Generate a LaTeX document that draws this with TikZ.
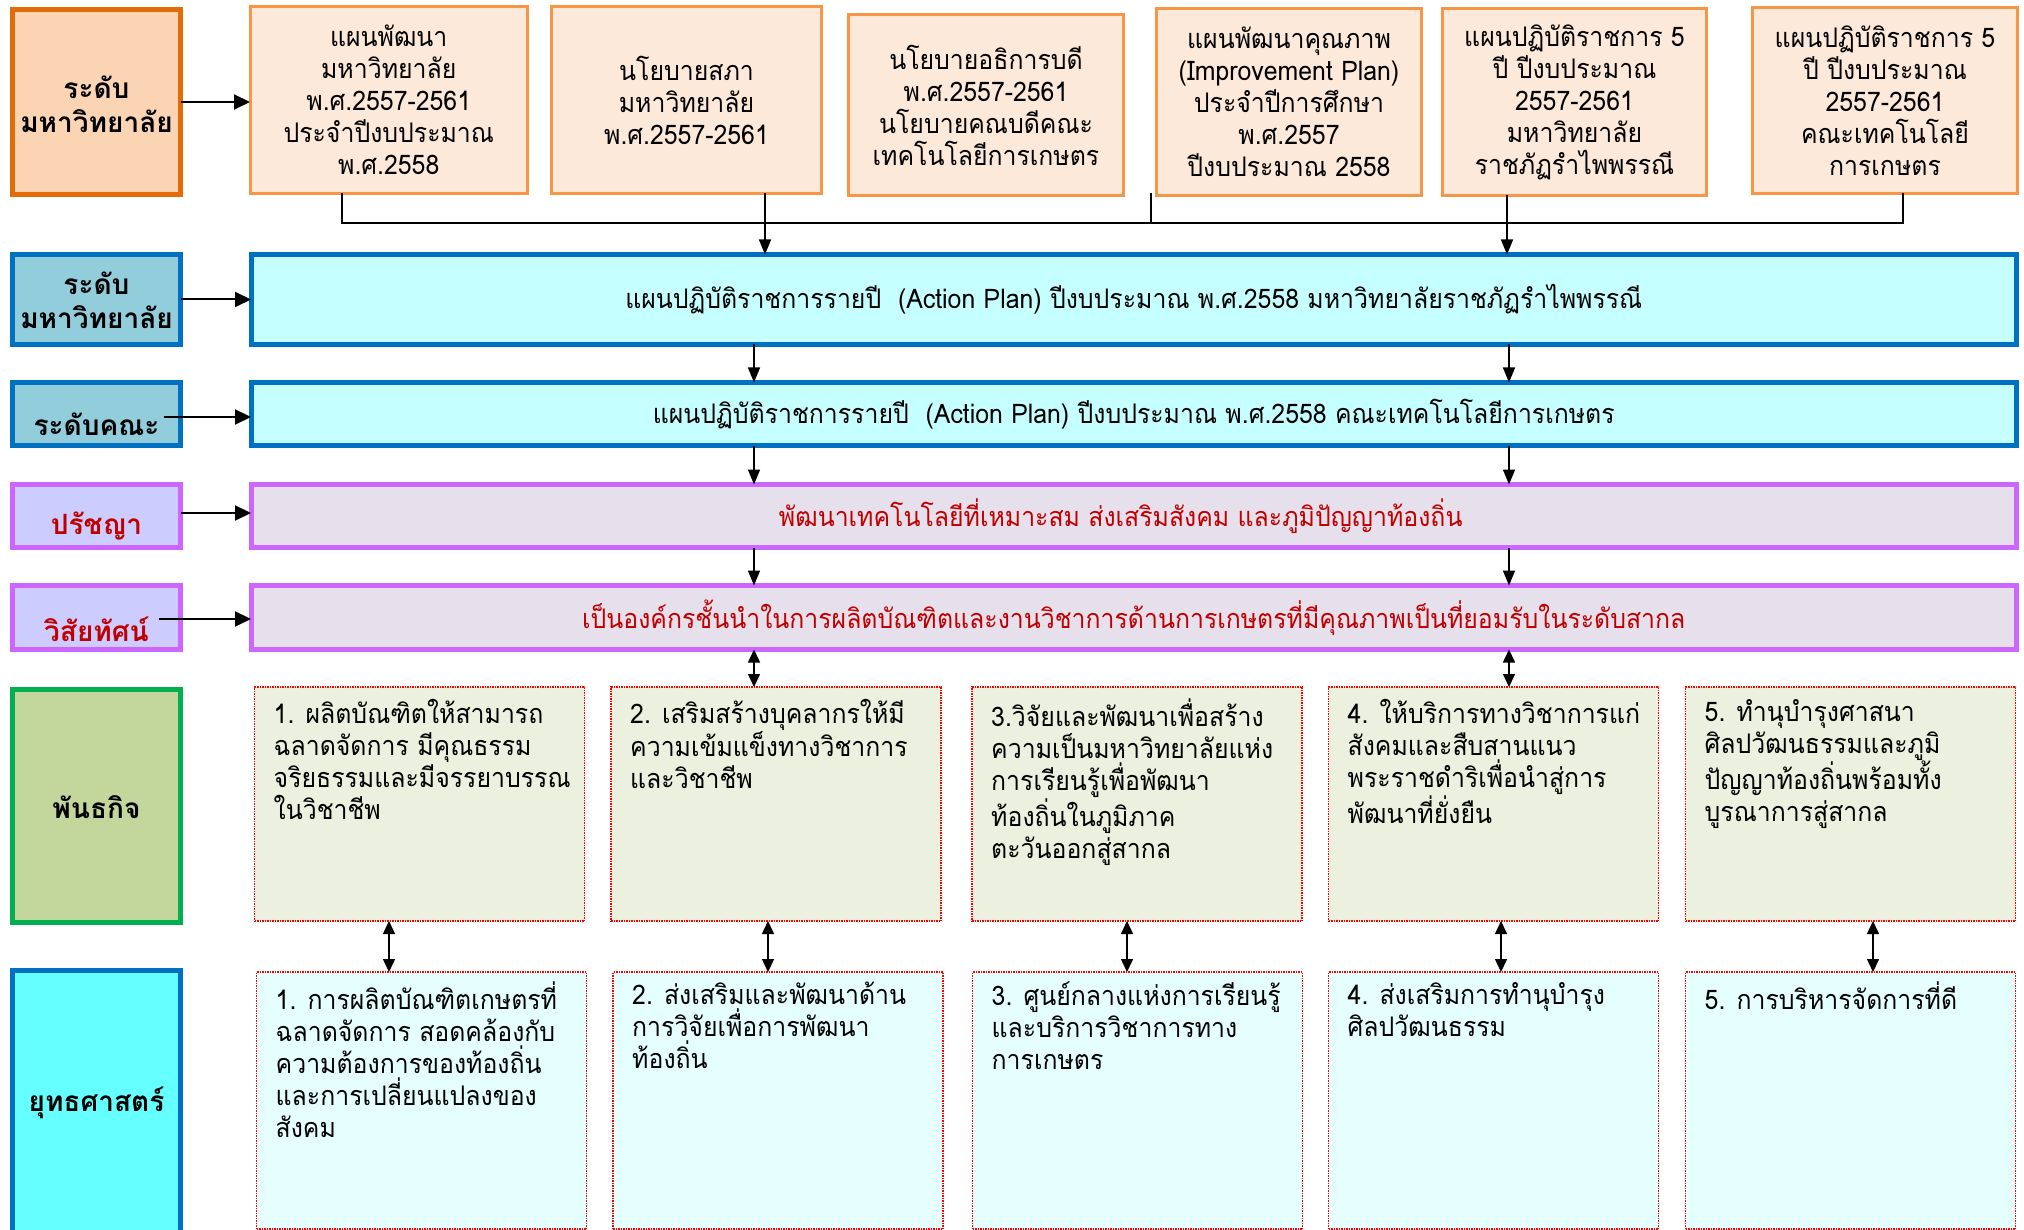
\documentclass[tikz,border=0pt]{standalone}
\usepackage{fontspec}
\setmainfont{Loma}[Script=Thai, FakeStretch=0.92]
\newfontfamily\lblfont{Loma}[Script=Thai, FakeStretch=1.0]
\usetikzlibrary{arrows.meta,calc}
\definecolor{lorange}{HTML}{E36C09}
\definecolor{lorangefill}{HTML}{FBD4B4}
\definecolor{topor}{HTML}{F79646}
\definecolor{topfill}{HTML}{FDE9D9}
\definecolor{bblue}{HTML}{0070C0}
\definecolor{lbluefill}{HTML}{92CDDC}
\definecolor{cyanfill}{HTML}{C6FFFF}
\definecolor{ppl}{HTML}{CC66FF}
\definecolor{pplfill}{HTML}{CCCCFF}
\definecolor{lavfill}{HTML}{E6E0EC}
\definecolor{redtxt}{HTML}{C00000}
\definecolor{ggreen}{HTML}{00B050}
\definecolor{greenfill}{HTML}{C3D69B}
\definecolor{misfill}{HTML}{EBF1DE}
\definecolor{strfill}{HTML}{E5FFFF}
\definecolor{strlbl}{HTML}{66FFFF}
\newcommand{\normaltxt}{\fontsize{27}{32}\selectfont}
\newcommand{\boldtxt}{\lblfont\fontsize{28}{34}\selectfont\bfseries}
\begin{document}
\begin{tikzpicture}[x=1pt,y=-1pt,
  box/.style={inner sep=0pt, outer sep=0pt, align=center, font=\normaltxt},
  topbox/.style={box, draw=topor, line width=3pt, fill=topfill},
  lblor/.style={box, draw=lorange, line width=5pt, fill=lorangefill, minimum width=168pt},
  lblbl/.style={box, draw=bblue, line width=5pt, fill=lbluefill, minimum width=168pt},
  lblpp/.style={box, draw=ppl, line width=5pt, fill=pplfill, minimum width=168pt},
  lblgr/.style={box, draw=ggreen, line width=5pt, fill=greenfill, minimum width=168pt},
  lblst/.style={box, draw=bblue, line width=5pt, fill=strlbl, minimum width=168pt},
  widebl/.style={box, draw=bblue, line width=5pt, fill=cyanfill, minimum width=1765.5pt},
  widepp/.style={box, draw=ppl, line width=5pt, fill=lavfill, minimum width=1765.5pt, text=redtxt},
  misbox/.style={box, draw=red, dash pattern=on 1.5pt off 1pt, line width=1.2pt, fill=misfill, minimum width=330pt, minimum height=234pt},
  strbox/.style={box, draw=red, dash pattern=on 1.5pt off 1pt, line width=1.2pt, fill=strfill, minimum width=330pt, minimum height=257pt},
  lbltxt/.style={inner sep=0pt, align=center, font=\boldtxt},
  bodytxt/.style={inner sep=0pt, align=left, font=\normaltxt, anchor=north west},
  larrow/.style={line width=2pt, -{Triangle[length=16pt,width=15pt]}},
  varrow/.style={line width=1.5pt, -{Triangle[length=15pt,width=12pt]}},
  darrow/.style={line width=1.5pt, {Triangle[length=13pt,width=12pt]}-{Triangle[length=13pt,width=12pt]}},
  thinline/.style={line width=1.4pt}
]
\clip (0,0) rectangle (2024,1230);
\fill[white] (0,0) rectangle (2024,1230);

% top row
\node[lblor, minimum height=185pt] (L1) at (96.5,102) {};
\node[lbltxt] (L1t) at (96.5,104) {ระดับ\\มหาวิทยาลัย};
\node[topbox, minimum width=277.5pt, minimum height=187pt] (t1) at (388.75,100) {แผนพัฒนา\\มหาวิทยาลัย\\พ.ศ.2557-2561\\ประจำปีงบประมาณ\\พ.ศ.2558};
\node[topbox, minimum width=270pt, minimum height=187pt] (t2) at (686.5,100) {นโยบายสภา\\มหาวิทยาลัย\\พ.ศ.2557-2561};
\node[topbox, minimum width=275pt, minimum height=181pt] (t3) at (986,105) {นโยบายอธิการบดี\\พ.ศ.2557-2561\\นโยบายคณบดีคณะ\\เทคโนโลยีการเกษตร};
\node[topbox, minimum width=265pt, minimum height=187pt] (t4) at (1289,102) {แผนพัฒนาคุณภาพ\\(Improvement Plan)\\ประจำปีการศึกษา\\พ.ศ.2557\\ปีงบประมาณ 2558};
\node[topbox, minimum width=264pt, minimum height=187pt] (t5) at (1574.5,102) {แผนปฏิบัติราชการ 5\\ปี ปีงบประมาณ\\2557-2561\\มหาวิทยาลัย\\ราชภัฏรำไพพรรณี};
\node[topbox, minimum width=265pt, minimum height=186pt] (t6) at (1885,100.5) {แผนปฏิบัติราชการ 5\\ปี ปีงบประมาณ\\2557-2561\\คณะเทคโนโลยี\\การเกษตร};

% level rows
\node[lblbl, minimum height=90pt] (L2) at (96.5,299.5) {};
\node[lbltxt] (L2t) at (96.5,300) {ระดับ\\มหาวิทยาลัย};
\node[widebl, minimum height=90pt] (W1) at (1133.75,299.5) {แผนปฏิบัติราชการรายปี\ \ (Action Plan) ปีงบประมาณ พ.ศ.2558 มหาวิทยาลัยราชภัฏรำไพพรรณี};

\node[lblbl, minimum height=63pt] (L3) at (96.5,414) {};
\node[lbltxt] (L3t) at (96.5,424) {ระดับคณะ};
\node[widebl, minimum height=63pt] (W2) at (1133.75,414) {แผนปฏิบัติราชการรายปี\ \ (Action Plan) ปีงบประมาณ พ.ศ.2558 คณะเทคโนโลยีการเกษตร};

\node[lblpp, minimum height=63pt] (L4) at (96.5,516) {};
\node[lbltxt, text=redtxt] (L4t) at (96.5,526) {ปรัชญา};
\node[widepp, minimum height=63pt] (W3) at (1133.75,516) {พัฒนาเทคโนโลยีที่เหมาะสม ส่งเสริมสังคม และภูมิปัญญาท้องถิ่น\hspace*{26pt}};

\node[lblpp, minimum height=64pt] (L5) at (96.5,617.5) {};
\node[lbltxt, text=redtxt] (L5t) at (96.5,629) {วิสัยทัศน์};
\node[widepp, minimum height=64pt] (W4) at (1133.75,617.5) {เป็นองค์กรชั้นนำในการผลิตบัณฑิตและงานวิชาการด้านการเกษตรที่มีคุณภาพเป็นที่ยอมรับในระดับสากล};

% mission
\node[lblgr, minimum height=233pt] (L6) at (96.5,806) {};
\node[lbltxt] (L6t) at (96.5,807) {พันธกิจ};
\node[misbox] (M1) at (419.5,804) {};
\node[misbox] (M2) at (776,804) {};
\node[misbox] (M3) at (1137,804) {};
\node[misbox] (M4) at (1493.5,804) {};
\node[misbox] (M5) at (1850.5,804) {};
\node[bodytxt] (M1t) at ($(M1.north west)+(19,12)$) {1. ผลิตบัณฑิตให้สามารถ\\ฉลาดจัดการ มีคุณธรรม\\จริยธรรมและมีจรรยาบรรณ\\ในวิชาชีพ};
\node[bodytxt] (M2t) at ($(M2.north west)+(19,12)$) {2. เสริมสร้างบุคลากรให้มี\\ความเข้มแข็งทางวิชาการ\\และวิชาชีพ};
\node[bodytxt] (M3t) at ($(M3.north west)+(19,12)$) {3.วิจัยและพัฒนาเพื่อสร้าง\\ความเป็นมหาวิทยาลัยแห่ง\\การเรียนรู้เพื่อพัฒนา\\ท้องถิ่นในภูมิภาค\\ตะวันออกสู่สากล};
\node[bodytxt] (M4t) at ($(M4.north west)+(19,12)$) {4. ให้บริการทางวิชาการแก่\\สังคมและสืบสานแนว\\พระราชดำริเพื่อนำสู่การ\\พัฒนาที่ยั่งยืน};
\node[bodytxt] (M5t) at ($(M5.north west)+(19,12)$) {5. ทำนุบำรุงศาสนา\\ศิลปวัฒนธรรมและภูมิ\\ปัญญาท้องถิ่นพร้อมทั้ง\\บูรณาการสู่สากล};

% strategy
\node[lblst, minimum height=266pt] (L7) at (96.5,1103) {};
\node[lbltxt] (L7t) at (96.5,1103) {ยุทธศาสตร์};
\node[strbox] (S1) at (421.5,1100.5) {};
\node[strbox] (S2) at (778,1100.5) {};
\node[strbox] (S3) at (1137.5,1100.5) {};
\node[strbox] (S4) at (1493.5,1100.5) {};
\node[strbox] (S5) at (1850.5,1100.5) {};
\node[bodytxt] (S1t) at ($(S1.north west)+(19,10)$) {1. การผลิตบัณฑิตเกษตรที่\\ฉลาดจัดการ สอดคล้องกับ\\ความต้องการของท้องถิ่น\\และการเปลี่ยนแปลงของ\\สังคม};
\node[bodytxt] (S2t) at ($(S2.north west)+(19,10)$) {2. ส่งเสริมและพัฒนาด้าน\\การวิจัยเพื่อการพัฒนา\\ท้องถิ่น};
\node[bodytxt] (S3t) at ($(S3.north west)+(19,10)$) {3. ศูนย์กลางแห่งการเรียนรู้\\และบริการวิชาการทาง\\การเกษตร};
\node[bodytxt] (S4t) at ($(S4.north west)+(19,10)$) {4. ส่งเสริมการทำนุบำรุง\\ศิลปวัฒนธรรม};
\node[bodytxt] (S5t) at ($(S5.north west)+(19,10)$) {5. การบริหารจัดการที่ดี};

% left arrows
\draw[larrow] (L1.east) -- (L1.east -| t1.west);
\draw[larrow] (L2.east) -- (L2.east -| W1.west);
\coordinate (a3) at ($(L3.east)+(-17,3)$);
\draw[larrow] (a3) -- (a3 -| W2.west);
\coordinate (a4) at ($(L4.east)+(0,-3)$);
\draw[larrow] (a4) -- (a4 -| W3.west);
\coordinate (a5) at ($(L5.east)+(-22,1.5)$);
\draw[larrow] (a5) -- (a5 -| W4.west);

% top connectors
\coordinate (hl) at (342,223);
\coordinate (hr) at (1903,223);
\draw[thinline] (t1.south -| hl) -- (hl) -- (hr) -- (t6.south -| hr);
\coordinate (tk) at (1151,193);
\draw[thinline] (tk) -- (tk |- hl);
\coordinate (xa) at (765,0);
\coordinate (xb) at (1507,0);
\draw[varrow] (t2.south -| xa) -- (W1.north -| xa);
\draw[varrow] (t5.south -| xb) -- (W1.north -| xb);

% vertical chain
\coordinate (xc) at (754,0);
\coordinate (xd) at (1509,0);
\draw[varrow] (W1.south -| xc) -- (W2.north -| xc);
\draw[varrow] (W1.south -| xd) -- (W2.north -| xd);
\draw[varrow] (W2.south -| xc) -- (W3.north -| xc);
\draw[varrow] (W2.south -| xd) -- (W3.north -| xd);
\draw[varrow] (W3.south -| xc) -- (W4.north -| xc);
\draw[varrow] (W3.south -| xd) -- (W4.north -| xd);
\draw[darrow] (W4.south -| xc) -- (M2.north -| xc);
\draw[darrow] (W4.south -| xd) -- (M4.north -| xd);

% mission to strategy
\coordinate (m1) at (389,0);
\coordinate (m2) at (768,0);
\coordinate (m3) at (1127,0);
\coordinate (m4) at (1501,0);
\coordinate (m5) at (1873,0);
\draw[darrow] (M1.south -| m1) -- (S1.north -| m1);
\draw[darrow] (M2.south -| m2) -- (S2.north -| m2);
\draw[darrow] (M3.south -| m3) -- (S3.north -| m3);
\draw[darrow] (M4.south -| m4) -- (S4.north -| m4);
\draw[darrow] (M5.south -| m5) -- (S5.north -| m5);
\end{tikzpicture}
\end{document}
